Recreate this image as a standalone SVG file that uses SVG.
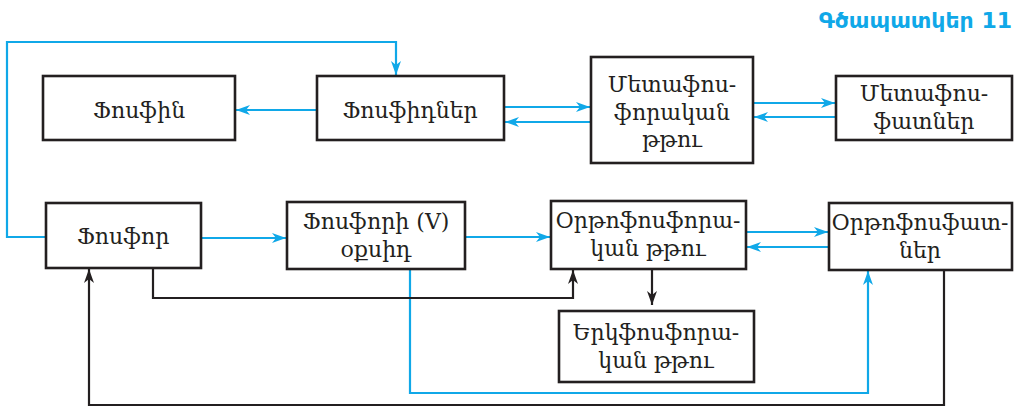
<svg xmlns="http://www.w3.org/2000/svg" width="1020" height="407" viewBox="0 0 1020 407">
<defs>
<style>
.box{fill:#fff;stroke:#231f20;stroke-width:2.6}
.t{font-family:"DejaVu Serif","DejaVu Sans",serif;font-size:22px;fill:#231f20;text-anchor:middle}
.b{fill:none;stroke:#10a8e8;stroke-width:2.2}
.k{fill:none;stroke:#231f20;stroke-width:2.2}
.title{font-family:"DejaVu Sans",sans-serif;font-size:22px;font-weight:bold;fill:#10a8e8;text-anchor:end}
</style>
<marker id="ab" viewBox="0 0 14 10" refX="14" refY="5" markerWidth="14" markerHeight="10" markerUnits="userSpaceOnUse" orient="auto"><path d="M0,0 L14,5 L0,10 L4,5 Z" fill="#10a8e8"/></marker>
<marker id="ak" viewBox="0 0 14 10" refX="14" refY="5" markerWidth="14" markerHeight="10" markerUnits="userSpaceOnUse" orient="auto"><path d="M0,0 L14,5 L0,10 L4,5 Z" fill="#231f20"/></marker>
</defs>
<rect width="1020" height="407" fill="#fff"/>
<text class="title" x="1012" y="28">Գծապատկեր 11</text>
<g id="connectors">
<path class="b" d="M46,237 H7 V42 H396 V75" marker-end="url(#ab)"/>
<path class="b" d="M317,110 H236" marker-end="url(#ab)"/>
<path class="b" d="M504,107 H590" marker-end="url(#ab)"/>
<path class="b" d="M591,122 H505" marker-end="url(#ab)"/>
<path class="b" d="M753,103 H835" marker-end="url(#ab)"/>
<path class="b" d="M836,117 H754" marker-end="url(#ab)"/>
<path class="b" d="M201,238 H286" marker-end="url(#ab)"/>
<path class="b" d="M465,237 H550" marker-end="url(#ab)"/>
<path class="b" d="M746,232 H828" marker-end="url(#ab)"/>
<path class="b" d="M829,247 H747" marker-end="url(#ab)"/>
<path class="b" d="M410,269 V393 H868 V271" marker-end="url(#ab)"/>
<path class="k" d="M153,268 V298 H573 V270" marker-end="url(#ak)"/>
<path class="k" d="M652,269 V305" marker-end="url(#ak)"/>
<path class="k" d="M944,270 V405 H89 V269" marker-end="url(#ak)"/>
</g>
<g id="n1"><rect class="box" x="43" y="76" width="192" height="64"/><text class="t" x="139" y="118">Ֆոսֆին</text></g>
<g id="n2"><rect class="box" x="317" y="76" width="187" height="64"/><text class="t" x="410" y="118">Ֆոսֆիդներ</text></g>
<g id="n3"><rect class="box" x="591" y="57" width="162" height="106"/><text class="t" x="672" y="92">Մետաֆոս-</text><text class="t" x="672" y="120">ֆորական</text><text class="t" x="672" y="147">թթու</text></g>
<g id="n4"><rect class="box" x="836" y="76" width="176" height="64"/><text class="t" x="924" y="101">Մետաֆոս-</text><text class="t" x="924" y="129">ֆատներ</text></g>
<g id="n5"><rect class="box" x="46" y="203" width="155" height="65"/><text class="t" x="123" y="244">Ֆոսֆոր</text></g>
<g id="n6"><rect class="box" x="287" y="202" width="178" height="67"/><text class="t" x="376" y="229">Ֆոսֆորի (V)</text><text class="t" x="376" y="257">օքսիդ</text></g>
<g id="n7"><rect class="box" x="551" y="201" width="195" height="68"/><text class="t" x="648" y="228">Օրթոֆոսֆորա-</text><text class="t" x="648" y="256">կան թթու</text></g>
<g id="n8"><rect class="box" x="829" y="203" width="183" height="67"/><text class="t" x="920" y="230">Օրթոֆոսֆատ-</text><text class="t" x="920" y="258">ներ</text></g>
<g id="n9"><rect class="box" x="559" y="311" width="195" height="71"/><text class="t" x="656" y="340">Երկֆոսֆորա-</text><text class="t" x="656" y="368">կան թթու</text></g>
</svg>
